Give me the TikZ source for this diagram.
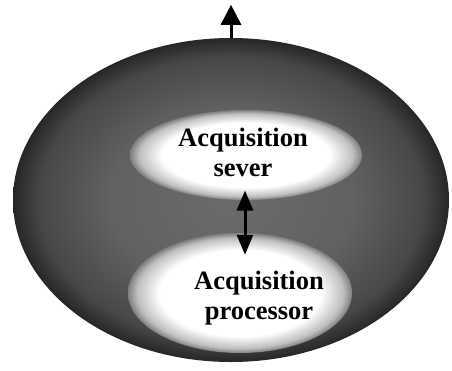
\documentclass[tikz,border=0pt]{standalone}
\usepackage{fontspec}
\setmainfont{Liberation Serif}
\usetikzlibrary{arrows.meta,shapes.geometric}
\pgfdeclareradialshading{whitecore}{\pgfpoint{0bp}{0bp}}{color(0bp)=(white); color(18bp)=(white); color(23bp)=(black!25); color(25bp)=(black!50); color(50bp)=(black!50)}
\pgfdeclareradialshading{darkdome}{\pgfpoint{0bp}{0bp}}{color(0bp)=(black!58); color(14bp)=(black!62); color(22bp)=(black!72); color(25bp)=(black!85); color(50bp)=(black!85)}
\begin{document}
\begin{tikzpicture}[x=1pt,y=-1pt,
  dome/.style={ellipse,inner sep=0pt,shading=darkdome},
  hole/.style={ellipse,inner sep=0pt,shading=whitecore},
  lbl/.style={align=center,font=\fontsize{26.5}{30}\selectfont\bfseries,inner sep=2pt},
  upway/.style={line width=3pt,-{Triangle[width=20pt,length=20pt]}},
  twoway/.style={line width=3pt,{Triangle[width=16pt,length=20pt]}-{Triangle[width=16pt,length=20pt]}}]
\useasboundingbox (0,0) rectangle (452,370);

\node[dome,minimum width=436pt,minimum height=324pt] (shell) at (231,200) {};
\node[hole,minimum width=232pt,minimum height=90pt] (srvhole) at (246,155) {};
\node[hole,minimum width=224pt,minimum height=120pt] (prchole) at (240,293) {};

\node[lbl] (srv) at (243,152) {Acquisition\\sever};
\node[lbl] (prc) at (259,298) {Acquisition\\processor};

\coordinate (out) at ([yshift=33pt]shell.north);
\draw[upway] (shell.north) -- (out);
\draw[twoway,shorten <=12pt,shorten >=14pt] ([xshift=2pt]srv.south) -- ([xshift=2pt]srv.south |- prc.north);
\end{tikzpicture}
\end{document}
